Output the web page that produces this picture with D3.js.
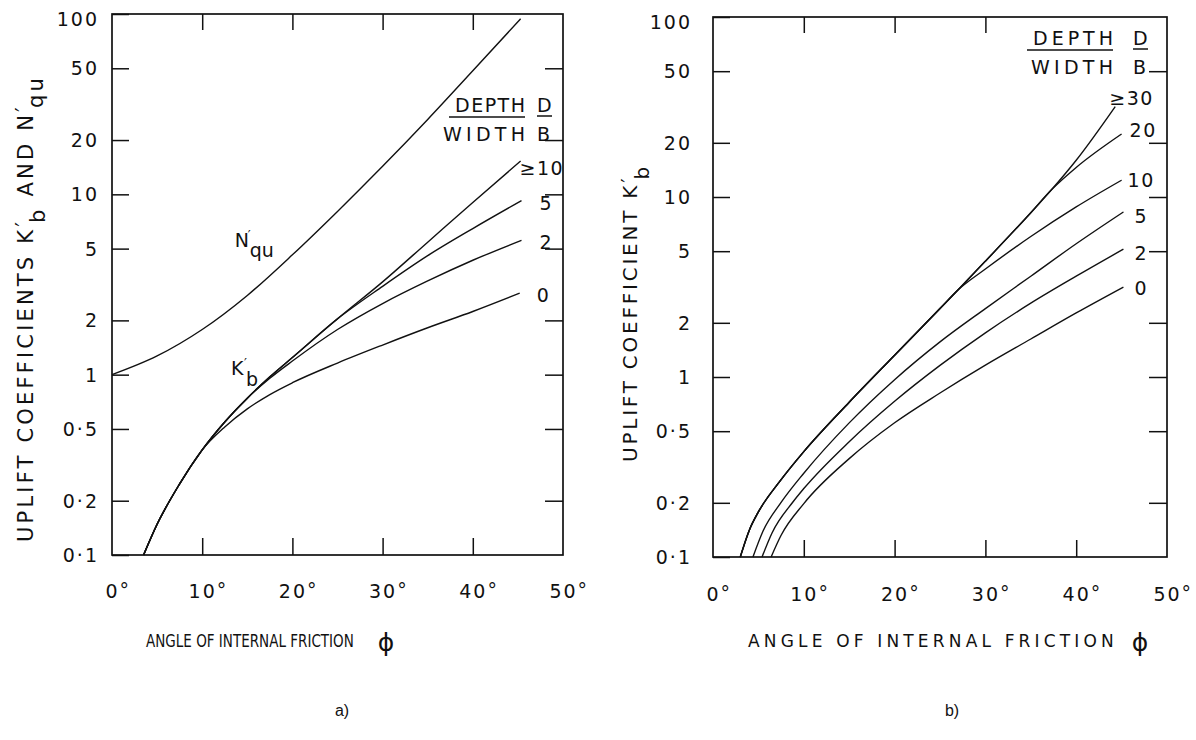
<!DOCTYPE html>
<html>
<head>
<meta charset="utf-8">
<script src="https://cdn.jsdelivr.net/npm/d3@7"></script>
<style>
  body { margin: 0; background: #fff; }
  text { font-family: "DejaVu Sans", sans-serif; fill: #111; }
</style>
</head>
<body>
<svg id="chart" width="1196" height="740"></svg>
<script>
// ---- shared axis values ----
const yTicks = [0.1, 0.2, 0.5, 1, 2, 5, 10, 20, 50, 100];
const yTickLabels = ["0·1", "0·2", "0·5", "1", "2", "5", "10", "20", "50", "100"];
const xTicks = [0, 10, 20, 30, 40, 50];

// ---- panel a) : N'qu and K'b (read off the picture) ----
const nquPhi = [0, 5, 10, 15, 20, 25, 30, 35, 40, 45.3];
const nquVal = [1.0, 1.27, 1.78, 2.75, 4.62, 8.04, 14.3, 26.0, 48.4, 94];

const kbA0Phi = [3.5, 5, 7.5, 10, 12.5, 15, 17.5, 20, 25, 30, 35, 40, 45.2];
const kbA0Val = [0.1, 0.148, 0.248, 0.383, 0.513, 0.646, 0.776, 0.902, 1.16, 1.46, 1.82, 2.24, 2.83];
const kbA2Phi = [3.5, 5, 7.5, 10, 12.5, 15, 17.5, 20, 25, 30, 35, 40, 45.4];
const kbA2Val = [0.1, 0.148, 0.248, 0.383, 0.547, 0.741, 0.955, 1.19, 1.78, 2.48, 3.31, 4.31, 5.56];
const kbA5Phi = [3.5, 5, 7.5, 10, 12.5, 15, 17.5, 20, 25, 30, 35, 40, 45.4];
const kbA5Val = [0.1, 0.148, 0.248, 0.383, 0.547, 0.741, 0.973, 1.245, 2.04, 3.09, 4.57, 6.46, 9.23];
const kbA10Phi = [3.5, 5, 7.5, 10, 12.5, 15, 17.5, 20, 25, 30, 35, 40, 45.3];
const kbA10Val = [0.1, 0.148, 0.248, 0.383, 0.547, 0.741, 0.973, 1.245, 2.04, 3.27, 5.43, 9.02, 15.3];

// ---- panel b) : K'b for D/B = 0 ... >=30 ----
const kbB30Phi = [3, 4, 5, 7.5, 10, 15, 20, 25, 27, 30, 35, 37.3, 40, 44.3];
const kbB30Val = [0.1, 0.141, 0.178, 0.269, 0.385, 0.724, 1.32, 2.40, 3.05, 4.40, 8.18, 11.0, 16.0, 31.8];
const kbB20Phi = [3, 4, 5, 7.5, 10, 15, 20, 25, 27, 30, 35, 37.3, 40, 45];
const kbB20Val = [0.1, 0.141, 0.178, 0.269, 0.385, 0.724, 1.32, 2.40, 3.05, 4.40, 8.18, 11.0, 14.6, 22.4];
const kbB10Phi = [3, 4, 5, 7.5, 10, 15, 20, 25, 27, 30, 35, 40, 45];
const kbB10Val = [0.1, 0.141, 0.178, 0.269, 0.385, 0.724, 1.32, 2.40, 3.05, 3.98, 6.03, 8.81, 12.4];
const kbB5Phi = [4.4, 5.5, 7.5, 10, 15, 20, 25, 30, 35, 40, 45.2];
const kbB5Val = [0.1, 0.139, 0.201, 0.292, 0.556, 0.966, 1.567, 2.40, 3.63, 5.50, 8.26];
const kbB2Phi = [5.4, 6.5, 8.8, 10, 15, 20, 25, 30, 35, 40, 45.2];
const kbB2Val = [0.1, 0.136, 0.202, 0.240, 0.437, 0.733, 1.16, 1.76, 2.57, 3.63, 5.13];
const kbB0Phi = [6.4, 7.5, 10, 15, 20, 25, 30, 35, 40, 45.2];
const kbB0Val = [0.1, 0.132, 0.198, 0.352, 0.557, 0.815, 1.164, 1.626, 2.27, 3.16];

const svg = d3.select("#chart");
svg.append("rect").attr("width", 1196).attr("height", 740).attr("fill", "#fff");

const zip = (p, v) => p.map((d, i) => [d, v[i]]);

function drawPanel(cfg) {
  const x = d3.scaleLinear().domain([0, 50]).range([cfg.x0, cfg.x1]);
  const y = d3.scaleLog().domain([0.1, 100]).range([cfg.yBot, cfg.yTop]);
  const g = svg.append("g");

  // inward ticks on all four sides
  const left = g.append("g").attr("transform", `translate(${cfg.x0},0)`)
    .call(d3.axisLeft(y).tickValues(yTicks).tickSize(-17).tickPadding(cfg.yPad)
      .tickFormat((d, i) => yTickLabels[i]));
  const right = g.append("g").attr("transform", `translate(${cfg.x1},0)`)
    .call(d3.axisRight(y).tickValues(yTicks.slice(1, -1)).tickSize(-18).tickFormat(""));
  const bottom = g.append("g").attr("transform", `translate(0,${cfg.yBot})`)
    .call(d3.axisBottom(x).tickValues(xTicks).tickSize(-17).tickFormat(d => d));
  const top = g.append("g").attr("transform", `translate(0,${cfg.yTop})`)
    .call(d3.axisTop(x).tickValues(cfg.topTicks).tickSize(-16).tickFormat(""));

  [left, right, bottom, top].forEach(a => {
    a.attr("font-family", null).attr("font-size", null);
    a.select(".domain").remove();
    a.selectAll("line").attr("stroke", "#111").attr("stroke-width", 1.5);
  });
  bottom.selectAll(".tick line").filter(d => d === 0 || d === 50).remove();

  left.selectAll(".tick text")
    .attr("font-size", 19).attr("letter-spacing", 2).attr("fill", "#111")
    .attr("dy", d => d === 100 ? "0.62em" : "0.34em");

  // digits centred on the tick, degree sign hung after them
  bottom.selectAll(".tick text")
    .attr("font-size", 19).attr("letter-spacing", 2).attr("fill", "#111")
    .attr("dy", null).attr("y", cfg.xLabY)
    .each(function () {
      const w = this.getComputedTextLength();
      d3.select(this.parentNode).append("text")
        .attr("text-anchor", "start")
        .attr("x", w / 2).attr("y", cfg.xLabY - 1).attr("font-size", 19)
        .attr("fill", "#111").text("°");
    });

  // frame
  g.append("rect")
    .attr("x", cfg.x0).attr("y", cfg.yTop)
    .attr("width", cfg.x1 - cfg.x0).attr("height", cfg.yBot - cfg.yTop)
    .attr("fill", "none").attr("stroke", "#111").attr("stroke-width", 1.7);

  // curves
  const line = d3.line().x(d => x(d[0])).y(d => y(d[1])).curve(d3.curveMonotoneX);
  cfg.series.forEach(s => {
    g.append("path").datum(zip(s.phi, s.val))
      .attr("d", line).attr("fill", "none")
      .attr("stroke", "#111").attr("stroke-width", 1.4);
    if (s.label) {
      const n = s.phi.length - 1;
      g.append("text")
        .attr("x", x(s.phi[n]) + s.dx).attr("y", y(s.val[n]) + s.dy)
        .attr("font-size", 19).attr("letter-spacing", 1.5).text(s.label);
    }
  });

  // DEPTH / WIDTH legend
  const L = cfg.legend;
  g.append("text").attr("x", L.x).attr("y", L.y).attr("font-size", 19)
    .attr("textLength", L.w).attr("lengthAdjust", "spacing").text("DEPTH");
  g.append("text").attr("x", L.x - L.wx).attr("y", L.y + 29).attr("font-size", 19)
    .attr("textLength", L.w + L.wx).attr("lengthAdjust", "spacing").text("WIDTH");
  g.append("text").attr("x", L.dx).attr("y", L.y).attr("font-size", 19).text("D");
  g.append("text").attr("x", L.dx).attr("y", L.y + 29).attr("font-size", 19).text("B");
  g.append("line").attr("x1", L.x - 6).attr("x2", L.x + L.w).attr("y1", L.y + 5).attr("y2", L.y + 5)
    .attr("stroke", "#111").attr("stroke-width", 1.5);
  g.append("line").attr("x1", L.dx).attr("x2", L.dx + 15).attr("y1", L.y + 4).attr("y2", L.y + 4)
    .attr("stroke", "#111").attr("stroke-width", 1.5);

  // x title: squeezed or spread to the width seen in the picture
  const xt = g.append("text").attr("font-size", 17).text("ANGLE OF INTERNAL FRICTION");
  const natural = xt.node().getComputedTextLength();
  if (cfg.xt.squeeze) {
    xt.attr("transform", `translate(${cfg.xt.x},647) scale(${cfg.xt.w / natural},1)`);
  } else {
    xt.attr("transform", `translate(${cfg.xt.x},647)`)
      .attr("letter-spacing", (cfg.xt.w - natural) / 26);
  }
  g.append("text").attr("x", cfg.xt.phi).attr("y", 651).attr("font-size", 25)
    .attr("text-anchor", "middle").text("ϕ");

  // y title (rotated)
  const yt = g.append("text")
    .attr("transform", `translate(${cfg.yt.x},${cfg.yt.y}) rotate(-90)`)
    .attr("font-size", cfg.yt.size);
  cfg.yt.parts.forEach(p => {
    yt.append("tspan").attr("dx", p.dx || 0).attr("dy", p.dy || 0).text(p.t);
  });
  const len = yt.node().getComputedTextLength();
  const nChars = yt.text().length;
  yt.attr("letter-spacing", (cfg.yt.len - len) / nChars);

  // caption
  svg.append("text").attr("x", cfg.cap.x).attr("y", 716).attr("text-anchor", "middle")
    .style("font-family", "'Liberation Sans', Arial, sans-serif").attr("font-size", 16)
    .text(cfg.cap.t);

  return { x, y, g };
}

const a = drawPanel({
  x0: 112, x1: 563, yTop: 14, yBot: 555, yPad: 13, xLabY: 43,
  topTicks: [10, 20, 30, 40],
  series: [
    { phi: nquPhi, val: nquVal },
    { phi: kbA0Phi, val: kbA0Val, label: "0", dx: 17, dy: 9 },
    { phi: kbA2Phi, val: kbA2Val, label: "2", dx: 18, dy: 9 },
    { phi: kbA5Phi, val: kbA5Val, label: "5", dx: 18, dy: 9 },
    { phi: kbA10Phi, val: kbA10Val, label: "≥10", dx: -1, dy: 14 }
  ],
  legend: { x: 455, y: 112, w: 70, wx: 12, dx: 537 },
  xt: { x: 146, w: 208, phi: 386, squeeze: true },
  yt: {
    x: 33, y: 542, size: 21, len: 475,
    parts: [
      { t: "UPLIFT COEFFICIENTS K" },
      { t: "′", dy: -2 },
      { t: "b", dx: -4, dy: 14 },
      { t: " AND N", dy: -12 },
      { t: "′", dy: -2 },
      { t: "qu", dx: -4, dy: 12 }
    ]
  },
  cap: { x: 342, t: "a)" }
});

// curve labels N'qu and K'b inside panel a, as separate pieces
function subLabel(g, px, py, main, sub, subDy) {
  g.append("text").attr("x", px).attr("y", py).attr("font-size", 19).text(main);
  g.append("text").attr("x", px + 13).attr("y", py - 8).attr("font-size", 13).text("′");
  g.append("text").attr("x", px + 15).attr("y", py + subDy).attr("font-size", 19).text(sub);
}
subLabel(a.g, a.x(13.6), a.y(5.1), "N", "qu", 10);
subLabel(a.g, a.x(13.2), a.y(1.0), "K", "b", 11);

drawPanel({
  x0: 713, x1: 1167, yTop: 17, yBot: 557, yPad: 21, xLabY: 44,
  topTicks: [10, 20, 30],
  series: [
    { phi: kbB0Phi, val: kbB0Val, label: "0", dx: 11, dy: 8 },
    { phi: kbB2Phi, val: kbB2Val, label: "2", dx: 11, dy: 11 },
    { phi: kbB5Phi, val: kbB5Val, label: "5", dx: 11, dy: 11 },
    { phi: kbB10Phi, val: kbB10Val, label: "10", dx: 6, dy: 7 },
    { phi: kbB20Phi, val: kbB20Val, label: "20", dx: 8, dy: 3 },
    { phi: kbB30Phi, val: kbB30Val, label: "≥30", dx: -6, dy: -2 }
  ],
  legend: { x: 1033, y: 45, w: 80, wx: 2, dx: 1133 },
  xt: { x: 748, w: 370, phi: 1140, squeeze: false },
  yt: {
    x: 637, y: 462, size: 20, len: 302,
    parts: [
      { t: "UPLIFT COEFFICIENT K" },
      { t: "′", dy: -2 },
      { t: "b", dx: -4, dy: 14 }
    ]
  },
  cap: { x: 952, t: "b)" }
});
</script>
</body>
</html>
